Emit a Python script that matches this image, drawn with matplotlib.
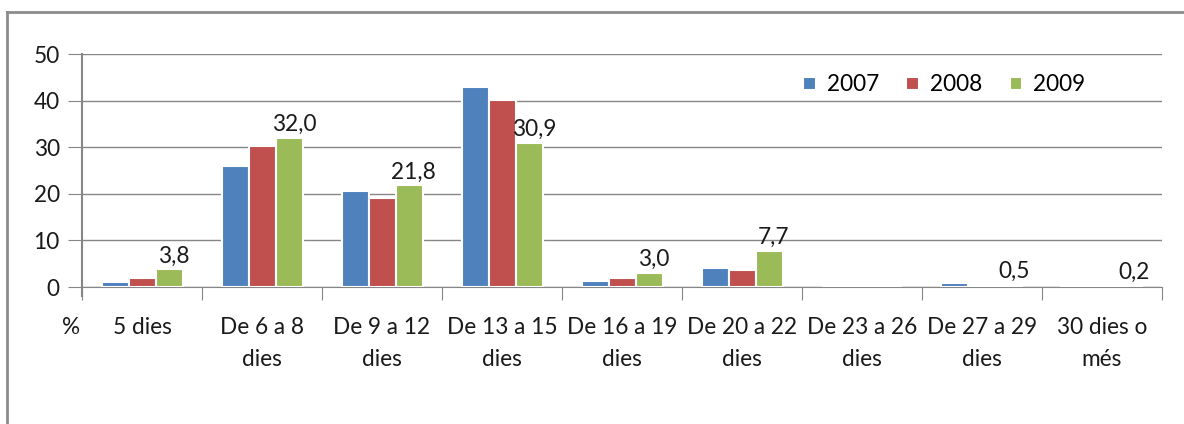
import numpy as np
import matplotlib.pyplot as plt
from matplotlib.lines import Line2D

plt.rcParams['font.family'] = ['Lato', 'DejaVu Sans']

categories = ['5 dies', 'De 6 a 8\ndies', 'De 9 a 12\ndies', 'De 13 a 15\ndies',
              'De 16 a 19\ndies', 'De 20 a 22\ndies', 'De 23 a 26\ndies',
              'De 27 a 29\ndies', '30 dies o\nmés']
v2007 = [1.1, 26.0, 20.6, 42.9, 1.3, 4.1, 0.0, 0.9, 0.3]
v2008 = [1.9, 30.3, 19.1, 40.1, 1.9, 3.6, 0.0, 0.0, 0.3]
v2009 = [3.8, 32.0, 21.8, 30.9, 3.0, 7.7, None, 0.5, 0.2]
years = ['2007', '2008', '2009']
colors = ['#4f81bd', '#c0504d', '#9bbb59']

fig = plt.figure(figsize=(11.84, 4.24), dpi=100)
ax = fig.add_axes([0.0693, 0.3231, 0.9121, 0.5495])

fs = 16.3
x = np.arange(len(categories))
w = 0.225
series = [v2007, v2008, v2009]
for i, (vals, c, yr) in enumerate(zip(series, colors, years)):
    h = [0 if v is None else v for v in vals]
    bars = ax.bar(x + (i - 1) * w, h, w, color=c, edgecolor='white',
                  linewidth=1.5, label=yr, zorder=3)
    if yr == '2009':
        for b, v in zip(bars, vals):
            if v is None:
                continue
            ax.text(b.get_x() + b.get_width() / 2 + 0.04, v + 0.6,
                    f'{v:.1f}'.replace('.', ','), ha='center', va='bottom',
                    fontsize=fs, color='#1a1a1a')

ax.set_xlim(-0.5, len(categories) - 0.5)
ax.set_ylim(0, 50)
ax.set_yticks(range(0, 51, 10))
ax.yaxis.grid(True, color='#868686', linewidth=1)
ax.set_axisbelow(True)
for s in ['top', 'right']:
    ax.spines[s].set_visible(False)
ax.spines['left'].set_color('#868686')
ax.spines['left'].set_linewidth(1.5)
ax.spines['bottom'].set_color('#868686')
ax.tick_params(axis='y', length=10, color='#868686', labelsize=fs,
               labelcolor='#1a1a1a', pad=6)
ax.set_xticks(np.arange(len(categories) + 1) - 0.5)
ax.set_xticklabels([])
ax.tick_params(axis='x', length=9, color='#868686')
ax.spines['left'].set_bounds(-2, 50)
ax.spines['left'].set_clip_on(False)

for xi, lab in zip(x, categories):
    ax.text(xi, -6.5, lab, ha='center', va='top', fontsize=fs,
            color='#1a1a1a', linespacing=1.65)
ax.text(-0.52, -6.5, '%', ha='right', va='top', fontsize=fs, color='#1a1a1a')

ax.legend(loc='upper right', bbox_to_anchor=(0.948, 1.0), ncol=3, frameon=False,
          fontsize=fs, handlelength=0.55, handleheight=0.55, handletextpad=0.5,
          columnspacing=1.2)

# outer chart frame (cropped)
fig.add_artist(Line2D([0.0059, 1.0], [1 - 12 / 424, 1 - 12 / 424],
                      color='#8c8c8c', linewidth=2, transform=fig.transFigure))
fig.add_artist(Line2D([0.0059, 0.0059], [0.0, 1 - 12 / 424],
                      color='#8c8c8c', linewidth=2, transform=fig.transFigure))

fig.savefig('out.png', dpi=100)
